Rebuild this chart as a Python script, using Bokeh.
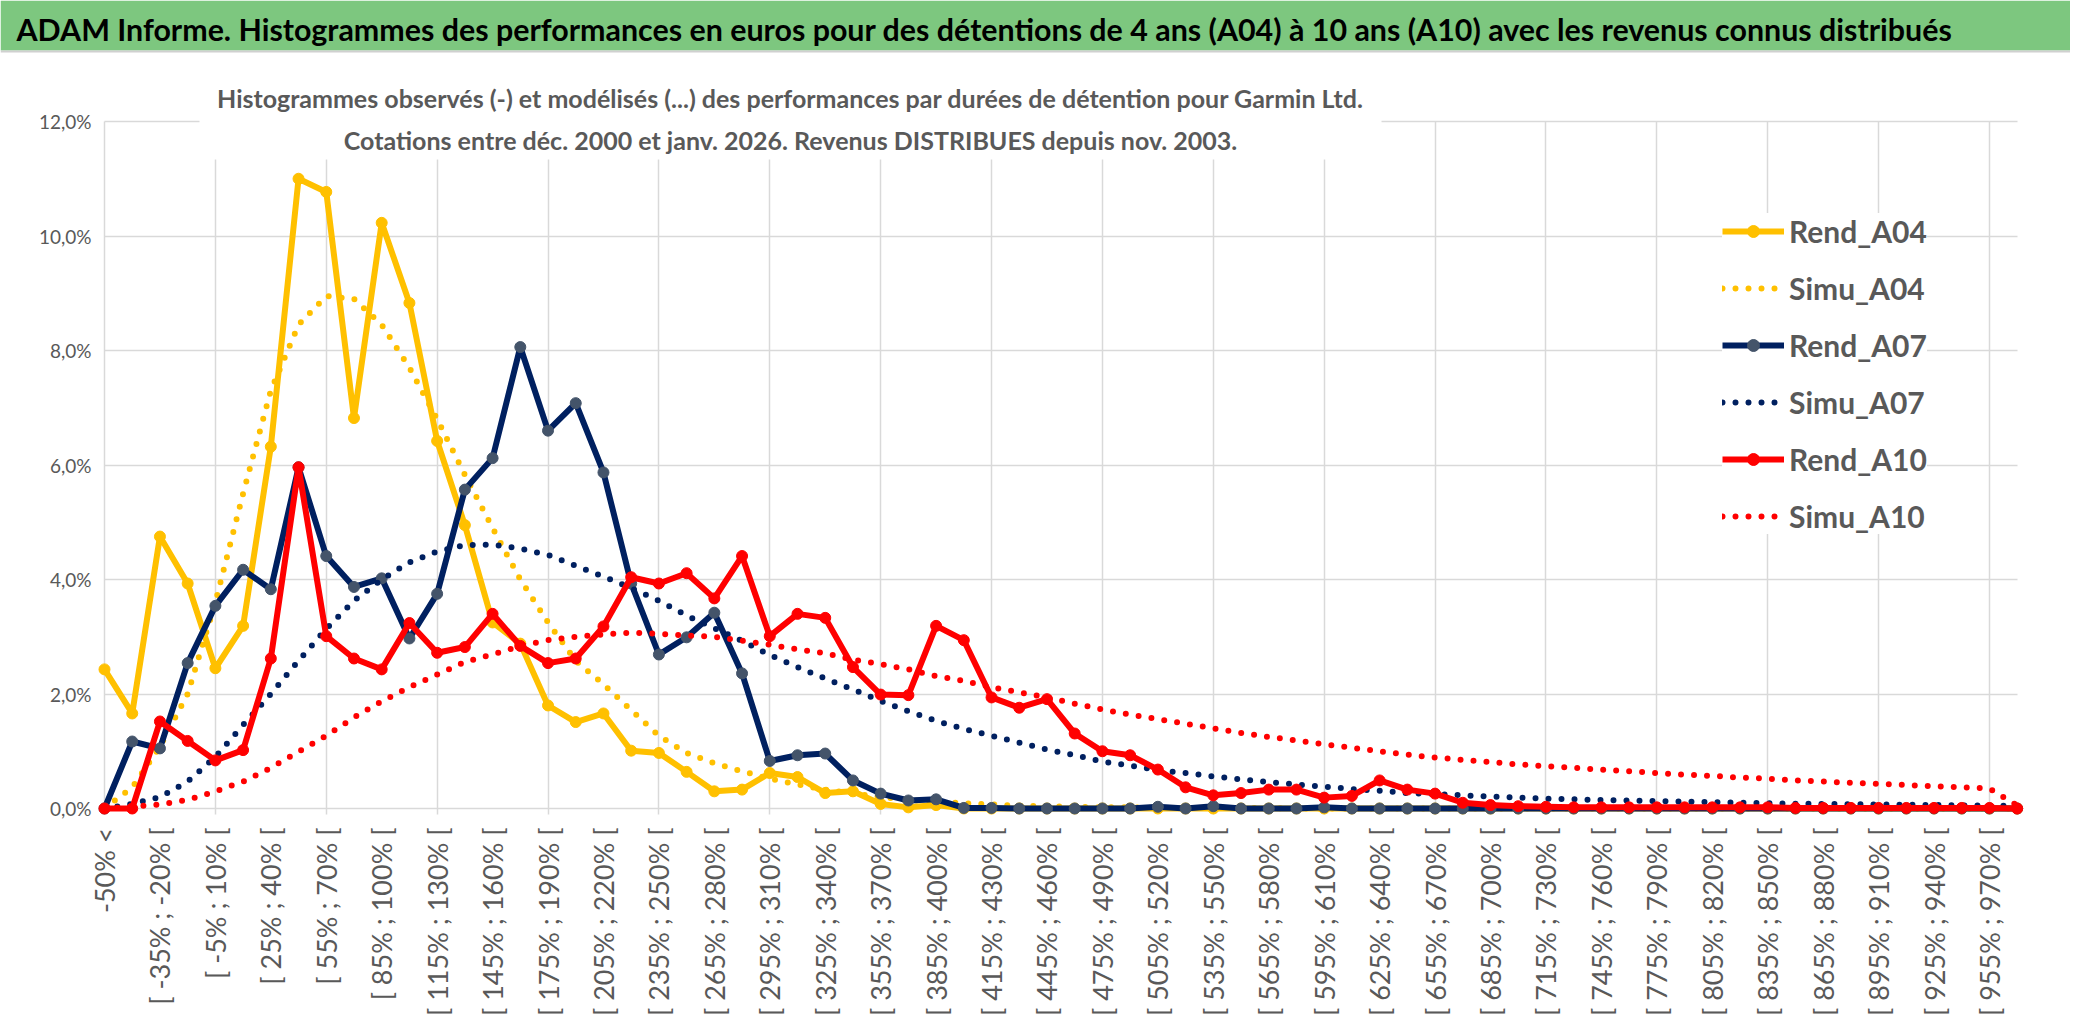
import math
from bokeh.plotting import figure
from bokeh.models import Range1d, FixedTicker, Label, BoxAnnotation, Legend, LegendItem, ColumnDataSource
from bokeh.embed import file_html
from bokeh.resources import INLINE

# ---------------- data ----------------
categories = [
    "-50% <", "[ -50% ; -35% [", "[ -35% ; -20% [", "[ -20% ; -5% [", "[ -5% ; 10% [",
    "[ 10% ; 25% [", "[ 25% ; 40% [", "[ 40% ; 55% [", "[ 55% ; 70% [", "[ 70% ; 85% [",
    "[ 85% ; 100% [", "[ 100% ; 115% [", "[ 115% ; 130% [", "[ 130% ; 145% [", "[ 145% ; 160% [",
    "[ 160% ; 175% [", "[ 175% ; 190% [", "[ 190% ; 205% [", "[ 205% ; 220% [", "[ 220% ; 235% [",
    "[ 235% ; 250% [", "[ 250% ; 265% [", "[ 265% ; 280% [", "[ 280% ; 295% [", "[ 295% ; 310% [",
    "[ 310% ; 325% [", "[ 325% ; 340% [", "[ 340% ; 355% [", "[ 355% ; 370% [", "[ 370% ; 385% [",
    "[ 385% ; 400% [", "[ 400% ; 415% [", "[ 415% ; 430% [", "[ 430% ; 445% [", "[ 445% ; 460% [",
    "[ 460% ; 475% [", "[ 475% ; 490% [", "[ 490% ; 505% [", "[ 505% ; 520% [", "[ 520% ; 535% [",
    "[ 535% ; 550% [", "[ 550% ; 565% [", "[ 565% ; 580% [", "[ 580% ; 595% [", "[ 595% ; 610% [",
    "[ 610% ; 625% [", "[ 625% ; 640% [", "[ 640% ; 655% [", "[ 655% ; 670% [", "[ 670% ; 685% [",
    "[ 685% ; 700% [", "[ 700% ; 715% [", "[ 715% ; 730% [", "[ 730% ; 745% [", "[ 745% ; 760% [",
    "[ 760% ; 775% [", "[ 775% ; 790% [", "[ 790% ; 805% [", "[ 805% ; 820% [", "[ 820% ; 835% [",
    "[ 835% ; 850% [", "[ 850% ; 865% [", "[ 865% ; 880% [", "[ 880% ; 895% [", "[ 895% ; 910% [",
    "[ 910% ; 925% [", "[ 925% ; 940% [", "[ 940% ; 955% [", "[ 955% ; 970% [", "970% >",
]

rend_a04 = [2.43, 1.66, 4.75, 3.93, 2.45, 3.19, 6.32, 11.0, 10.77, 6.82,
            10.23, 8.83, 6.42, 4.95, 3.25, 2.88, 1.80, 1.51, 1.66, 1.01,
            0.97, 0.64, 0.30, 0.33, 0.62, 0.55, 0.27, 0.30, 0.08, 0.02,
            0.06, 0.0, 0.0, 0.0, 0.0, 0.0, 0.0, 0.0, 0.0, 0.0,
            0.0, 0.0, 0.0, 0.0, 0.0, 0.0, 0.0, 0.0, 0.0, 0.0,
            0.0, 0.0, 0.0, 0.0, 0.0, 0.0, 0.0, 0.0, 0.0, 0.0,
            0.0, 0.0, 0.0, 0.0, 0.0, 0.0, 0.0, 0.0, 0.0, 0.0]
simu_a04 = [0.0, 0.37, 1.08, 2.0, 3.6, 5.5, 7.3, 8.45, 8.95, 8.9,
            8.45, 7.7, 6.8, 5.83, 4.9, 4.0, 3.25, 2.58, 2.17, 1.72,
            1.27, 0.97, 0.79, 0.65, 0.52, 0.42, 0.33, 0.26, 0.20, 0.15,
            0.12, 0.09, 0.07, 0.05, 0.04, 0.03, 0.02, 0.02, 0.01, 0.01,
            0.01, 0.01, 0.01, 0.0, 0.0, 0.0, 0.0, 0.0, 0.0, 0.0,
            0.0, 0.0, 0.0, 0.0, 0.0, 0.0, 0.0, 0.0, 0.0, 0.0,
            0.0, 0.0, 0.0, 0.0, 0.0, 0.0, 0.0, 0.0, 0.0, 0.0]
rend_a07 = [0.0, 1.17, 1.05, 2.54, 3.54, 4.17, 3.83, 5.96, 4.41, 3.87,
            4.02, 2.97, 3.75, 5.57, 6.12, 8.06, 6.60, 7.08, 5.87, 3.93,
            2.69, 2.99, 3.42, 2.36, 0.83, 0.93, 0.96, 0.49, 0.26, 0.14,
            0.16, 0.01, 0.01, 0.0, 0.0, 0.0, 0.0, 0.0, 0.03, 0.0,
            0.04, 0.0, 0.0, 0.0, 0.02, 0.0, 0.0, 0.0, 0.0, 0.0,
            0.0, 0.0, 0.0, 0.0, 0.0, 0.0, 0.0, 0.0, 0.0, 0.0,
            0.0, 0.0, 0.0, 0.0, 0.0, 0.0, 0.0, 0.0, 0.0, 0.0]
simu_a07 = [0.0, 0.08, 0.2, 0.47, 0.9, 1.46, 2.0, 2.58, 3.14, 3.63,
            4.0, 4.3, 4.49, 4.6, 4.61, 4.54, 4.43, 4.24, 4.05, 3.85,
            3.63, 3.37, 3.15, 2.93, 2.68, 2.47, 2.27, 2.08, 1.88, 1.70,
            1.53, 1.39, 1.27, 1.15, 1.03, 0.93, 0.82, 0.75, 0.67, 0.62,
            0.56, 0.51, 0.46, 0.42, 0.38, 0.34, 0.31, 0.27, 0.25, 0.23,
            0.21, 0.19, 0.17, 0.16, 0.15, 0.14, 0.13, 0.12, 0.11, 0.10,
            0.09, 0.085, 0.08, 0.075, 0.07, 0.065, 0.06, 0.055, 0.05, 0.05]
rend_a10 = [0.0, 0.0, 1.52, 1.18, 0.84, 1.02, 2.62, 5.96, 3.01, 2.62,
            2.43, 3.24, 2.72, 2.82, 3.40, 2.84, 2.54, 2.62, 3.18, 4.04,
            3.93, 4.11, 3.67, 4.41, 3.01, 3.40, 3.33, 2.47, 1.99, 1.98,
            3.19, 2.94, 1.94, 1.76, 1.91, 1.31, 1.00, 0.93, 0.68, 0.37,
            0.23, 0.27, 0.33, 0.33, 0.19, 0.22, 0.49, 0.33, 0.26, 0.10,
            0.06, 0.04, 0.03, 0.02, 0.02, 0.02, 0.02, 0.02, 0.02, 0.02,
            0.02, 0.01, 0.01, 0.01, 0.01, 0.01, 0.01, 0.01, 0.01, 0.0]
simu_a10 = [0.0, 0.03, 0.07, 0.15, 0.3, 0.47, 0.71, 0.99, 1.27, 1.59,
            1.87, 2.12, 2.34, 2.56, 2.69, 2.84, 2.94, 3.0, 3.04, 3.07,
            3.05, 3.02, 3.0, 2.93, 2.86, 2.78, 2.71, 2.6, 2.52, 2.43,
            2.31, 2.23, 2.12, 2.03, 1.94, 1.83, 1.73, 1.64, 1.56, 1.48,
            1.40, 1.32, 1.25, 1.19, 1.12, 1.06, 1.0, 0.94, 0.89, 0.85,
            0.81, 0.77, 0.74, 0.71, 0.68, 0.65, 0.62, 0.59, 0.57, 0.54,
            0.52, 0.49, 0.47, 0.45, 0.43, 0.41, 0.39, 0.37, 0.35, 0.05]

y_ticks = [0, 2, 4, 6, 8, 10, 12]
y_tick_labels = ["0,0%", "2,0%", "4,0%", "6,0%", "8,0%", "10,0%", "12,0%"]
series_names = ["Rend_A04", "Simu_A04", "Rend_A07", "Simu_A07", "Rend_A10", "Simu_A10"]

TITLE = ("ADAM Informe. Histogrammes des performances en euros pour des détentions "
         "de 4 ans (A04) à 10 ans (A10) avec les revenus connus distribués")
SUB1 = ("Histogrammes observés (-) et modélisés (...) des performances par durées "
        "de détention pour Garmin Ltd.")
SUB2 = "Cotations entre déc. 2000 et janv. 2026. Revenus DISTRIBUES depuis nov. 2003."

# ---------------- style / geometry (pixels) ----------------
GOLD = "#FFC000"
NAVY = "#002060"
NAVY_MK = "#44546A"
RED = "#FF0000"
GRID = "#D9D9D9"
TXT = "#595959"
GREEN = "#7DC77F"
FONT = "Lato"
W, H = 2070, 1015
X_ORIG, X_STEP = 104.0, 27.72      # pixel of category 0, pixels per category
Y_ZERO, Y_STEP = 808.0, 57.25      # pixel row of 0 %, pixels per 1 %

x_range = Range1d(-X_ORIG / X_STEP, (W - X_ORIG) / X_STEP)
y_range = Range1d((Y_ZERO - H) / Y_STEP, Y_ZERO / Y_STEP)

p = figure(width=W, height=H, x_range=x_range, y_range=y_range,
           toolbar_location=None, output_backend="svg", min_border=0)
p.outline_line_color = None
p.background_fill_color = "white"
p.border_fill_color = "white"

xs = list(range(len(categories)))
src = ColumnDataSource(dict(x=xs, r04=rend_a04, s04=simu_a04, r07=rend_a07,
                            s07=simu_a07, r10=rend_a10, s10=simu_a10))

# ---- grid ----
xgrid_ticks = list(range(0, len(categories), 4))
p.xgrid.ticker = FixedTicker(ticks=xgrid_ticks)
p.ygrid.ticker = FixedTicker(ticks=y_ticks)
for g in (p.xgrid[0], p.ygrid[0]):
    g.grid_line_color = GRID
    g.grid_line_width = 1.5
try:
    p.xgrid[0].cross_bounds = (-0.1, y_ticks[-1])
    p.ygrid[0].cross_bounds = (0, len(categories) - 1)
except Exception:
    p.xgrid.visible = False
    p.ygrid.visible = False
    p.segment(x0=xgrid_ticks, x1=xgrid_ticks, y0=[-0.1] * len(xgrid_ticks),
              y1=[y_ticks[-1]] * len(xgrid_ticks), line_color=GRID, line_width=1.5, level="underlay")
    p.segment(x0=[0] * len(y_ticks), x1=[len(categories) - 1] * len(y_ticks), y0=y_ticks,
              y1=y_ticks, line_color=GRID, line_width=1.5, level="underlay")

# ---- axes (inside the single frame) ----
p.yaxis.fixed_location = 0
p.yaxis.ticker = FixedTicker(ticks=y_ticks)
p.yaxis.major_label_overrides = {t: l for t, l in zip(y_ticks, y_tick_labels)}
p.yaxis.axis_line_color = None
p.yaxis.major_tick_line_color = None
p.yaxis.minor_tick_line_color = None
p.yaxis.major_tick_out = 0
p.yaxis.major_tick_in = 0
p.yaxis.major_label_standoff = 13
p.yaxis.major_label_text_font = FONT
p.yaxis.major_label_text_font_size = "19px"
p.yaxis.major_label_text_color = TXT

label_ticks = list(range(0, len(categories), 2))
p.xaxis.fixed_location = 0
p.xaxis.ticker = FixedTicker(ticks=label_ticks)
p.xaxis.major_label_overrides = {i: categories[i] for i in label_ticks}
p.xaxis.major_label_orientation = math.pi / 2
p.xaxis.axis_line_color = None
p.xaxis.major_tick_line_color = None
p.xaxis.minor_tick_line_color = None
p.xaxis.major_tick_out = 0
p.xaxis.major_tick_in = 0
p.xaxis.major_label_standoff = 19
p.xaxis.major_label_text_font = FONT
p.xaxis.major_label_text_font_size = "27px"
p.xaxis.major_label_text_color = TXT

# ---- banner ----
p.add_layout(BoxAnnotation(left=0, right=W, bottom=H - 50, top=H,
                           left_units="screen", right_units="screen",
                           bottom_units="screen", top_units="screen",
                           fill_color=GREEN, fill_alpha=1, line_color=None))
p.add_layout(BoxAnnotation(left=0, right=W, bottom=H - 52, top=H - 50,
                           left_units="screen", right_units="screen",
                           bottom_units="screen", top_units="screen",
                           fill_color="#D0D0D0", fill_alpha=1, line_color=None))
p.add_layout(Label(x=16, y=H - 28, x_units="screen", y_units="screen", text=TITLE,
                   text_font=FONT, text_font_style="bold", text_font_size="30.4px",
                   text_color="black", text_baseline="middle", text_align="left"))

# ---- series ----
LW = 6
DOT = "0 13"
r04_l = p.line("x", "r04", source=src, line_color=GOLD, line_width=LW, line_join="round")
r04_m = p.scatter("x", "r04", source=src, size=11, fill_color=GOLD, line_color=GOLD)
s04_l = p.line("x", "s04", source=src, line_color=GOLD, line_width=LW, line_dash=DOT, line_cap="round")
r07_l = p.line("x", "r07", source=src, line_color=NAVY, line_width=LW, line_join="round")
r07_m = p.scatter("x", "r07", source=src, size=11, fill_color=NAVY_MK, line_color=NAVY_MK)
s07_l = p.line("x", "s07", source=src, line_color=NAVY, line_width=LW, line_dash=DOT, line_cap="round")
r10_l = p.line("x", "r10", source=src, line_color=RED, line_width=LW, line_join="round")
r10_m = p.scatter("x", "r10", source=src, size=11, fill_color=RED, line_color=RED)
s10_l = p.line("x", "s10", source=src, line_color=RED, line_width=LW, line_dash=DOT, line_cap="round")

# ---- subtitle ----
p.add_layout(BoxAnnotation(left=199, right=1381, bottom=H - 159, top=H - 70,
                           left_units="screen", right_units="screen",
                           bottom_units="screen", top_units="screen",
                           fill_color="white", fill_alpha=1, line_color=None))
p.add_layout(Label(x=790, y=H - 97, x_units="screen", y_units="screen", text=SUB1,
                   text_font=FONT, text_font_style="bold", text_font_size="25px",
                   text_color=TXT, text_align="center", text_baseline="middle"))
p.add_layout(Label(x=790, y=H - 139, x_units="screen", y_units="screen", text=SUB2,
                   text_font=FONT, text_font_style="bold", text_font_size="25px",
                   text_color=TXT, text_align="center", text_baseline="middle"))

# ---- legend ----
legend = Legend(items=[
    LegendItem(label=series_names[0], renderers=[r04_l, r04_m]),
    LegendItem(label=series_names[1], renderers=[s04_l]),
    LegendItem(label=series_names[2], renderers=[r07_l, r07_m]),
    LegendItem(label=series_names[3], renderers=[s07_l]),
    LegendItem(label=series_names[4], renderers=[r10_l, r10_m]),
    LegendItem(label=series_names[5], renderers=[s10_l]),
], location=(1722, H - 534), orientation="vertical")
legend.padding = 12
legend.spacing = 21
legend.margin = 0
legend.glyph_width = 62
legend.glyph_height = 30
legend.label_height = 30
legend.label_standoff = 5
legend.label_text_font = FONT
legend.label_text_font_style = "bold"
legend.label_text_font_size = "30px"
legend.label_text_color = TXT
legend.background_fill_color = "white"
legend.background_fill_alpha = 1
legend.border_line_color = None
p.add_layout(legend)

open("out.html", "w").write(file_html(p, INLINE))
